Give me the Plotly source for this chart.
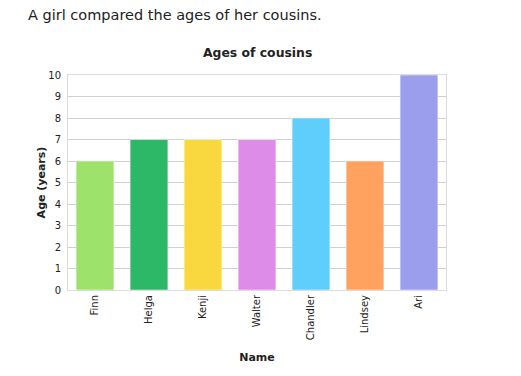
import plotly.graph_objects as go

names = ["Finn", "Helga", "Kenji", "Walter", "Chandler", "Lindsey", "Ari"]
ages = [6, 7, 7, 7, 8, 6, 10]
colors = ["#9ce26b", "#2cb866", "#f9d73e", "#dd8de8", "#5fcefc", "#ffa25f", "#9b9ded"]
y_ticks = list(range(0, 11))

fig = go.Figure(go.Bar(
    x=names, y=ages,
    marker=dict(color=colors, line=dict(color="rgba(255,255,255,0.5)", width=1)),
    width=0.7,
))

L, T, PW, PH = 60, 67, 378, 215
W, H = 505, 360
font_family = "DejaVu Sans, Verdana, sans-serif"
fig.update_layout(
    width=W, height=H,
    margin=dict(l=L, r=W - L - PW, t=T, b=H - T - PH, autoexpand=False),
    paper_bgcolor="white", plot_bgcolor="white",
    font=dict(family=font_family, color="#222", size=10),
    showlegend=False,
    bargap=0.3,
)
fig.update_xaxes(
    tickangle=-90, showgrid=False, ticks="",
    showline=True, linecolor="#dcdcdc", linewidth=1, mirror=True,
    tickfont=dict(size=10, color="#222"),
    title=dict(text="<b>Name</b>", font=dict(size=11, color="#222"), standoff=14),
)
fig.update_yaxes(
    range=[0, 10], tickvals=y_ticks, showgrid=True, gridcolor="#d0d0d0",
    showline=True, linecolor="#dcdcdc", linewidth=1, mirror=True,
    zeroline=False, ticks="", ticklen=0, ticklabelstandoff=4,
    tickfont=dict(size=10, color="#222"),
    title=dict(text="<b>Age (years)</b>", font=dict(size=11, color="#222"), standoff=0),
)
# header text: screen x=28, y=15 (minus 8px page offset)
fig.add_annotation(text="A girl compared the ages of her cousins.",
                   xref="paper", yref="paper", x=(18 - L) / PW, y=1 + (T - 7) / PH,
                   showarrow=False, xanchor="left", yanchor="middle",
                   font=dict(size=14.5, color="#222", family=font_family))
fig.add_annotation(text="<b>Ages of cousins</b>",
                   xref="paper", yref="paper", x=0.5, y=1 + (T - 44) / PH,
                   showarrow=False, xanchor="center", yanchor="middle",
                   font=dict(size=12.4, color="#222", family=font_family))

fig.write_html("out.html")
